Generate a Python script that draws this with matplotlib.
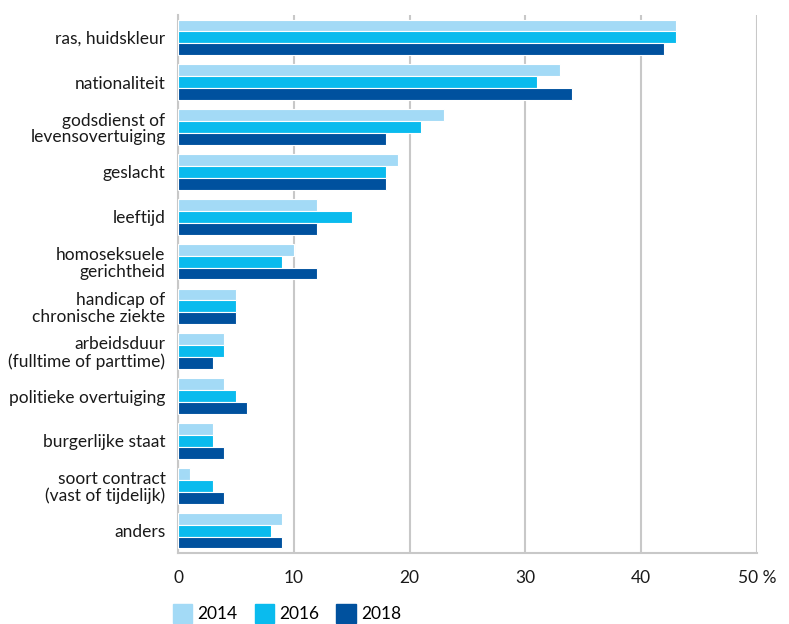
import matplotlib.pyplot as plt
import matplotlib.patches as mpatches
import numpy as np

plt.rcParams["font.family"] = ["Lato", "DejaVu Sans"]

CATEGORIES = [
    "ras, huidskleur",
    "nationaliteit",
    "godsdienst of\nlevensovertuiging",
    "geslacht",
    "leeftijd",
    "homoseksuele\ngerichtheid",
    "handicap of\nchronische ziekte",
    "arbeidsduur\n(fulltime of parttime)",
    "politieke overtuiging",
    "burgerlijke staat",
    "soort contract\n(vast of tijdelijk)",
    "anders",
]
YEARS = ["2014", "2016", "2018"]
V2014 = [43, 33, 23, 19, 12, 10, 5, 4, 4, 3, 1, 9]
V2016 = [43, 31, 21, 18, 15, 9, 5, 4, 5, 3, 3, 8]
V2018 = [42, 34, 18, 18, 12, 12, 5, 3, 6, 4, 4, 9]

COLORS = ["#a3daf6", "#0abbee", "#00519e"]
GRID = "#c8c8c8"
FS = 12.5

fig = plt.figure(figsize=(7.89, 6.24), dpi=100)
ax = fig.add_axes([178 / 789, 1 - 553 / 624, (757 - 178) / 789, (553 - 15) / 624])

y = np.arange(len(CATEGORIES))
h = 0.265
for k, vals in enumerate([V2014, V2016, V2018]):
    ax.barh(y + (k - 1) * h, vals, height=h, color=COLORS[k],
            edgecolor="white", linewidth=0.8, zorder=3)

ax.set_ylim(len(CATEGORIES) - 0.5, -0.5)
ax.set_xlim(0, 50)
ax.set_yticks(y, labels=CATEGORIES, fontsize=FS, color="#1a1a1a", linespacing=1.05)
ax.set_xticks([0, 10, 20, 30, 40, 50], labels=["0", "10", "20", "30", "40", "50 %"],
              fontsize=FS, color="#1a1a1a")
ax.tick_params(length=0, pad=9)
ax.tick_params(axis="x", pad=12)
ax.grid(axis="x", color=GRID, lw=1.5, zorder=0)
for s in ["top", "right"]:
    ax.spines[s].set_visible(False)
for s in ["left", "bottom"]:
    ax.spines[s].set_color(GRID)
    ax.spines[s].set_linewidth(1.5)

handles = [mpatches.Patch(color=c, label=yr) for c, yr in zip(COLORS, YEARS)]
fig.legend(handles=handles, loc="lower left", bbox_to_anchor=(173 / 789, 1 / 624),
           ncol=3, frameon=False, fontsize=FS, handlelength=1.1, handleheight=1.35,
           columnspacing=1.0, handletextpad=0.3, borderpad=0, borderaxespad=0)

fig.savefig("out.png", dpi=100)
